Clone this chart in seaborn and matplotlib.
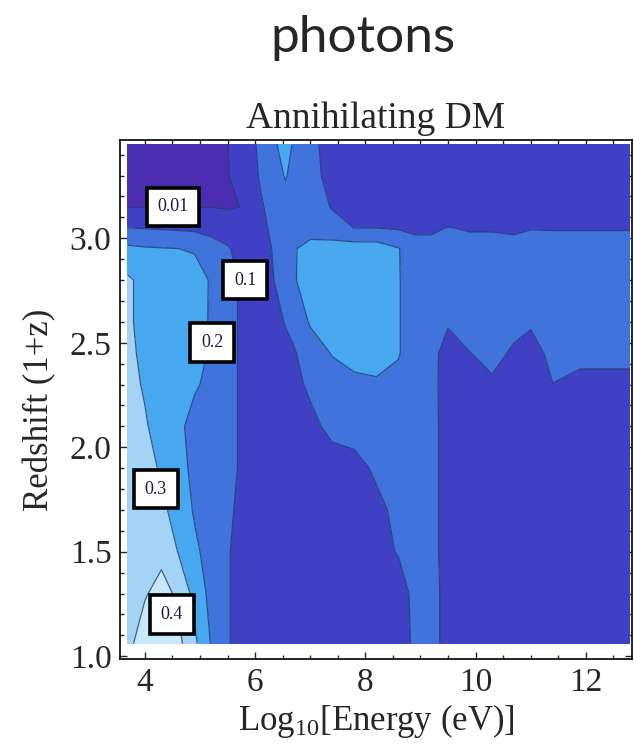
import numpy as np
import pandas as pd
import seaborn as sns
import matplotlib.pyplot as plt
from matplotlib.colors import ListedColormap, BoundaryNorm
from matplotlib.ticker import MultipleLocator

sns.set_style("ticks")
plt.rcParams["font.family"] = ["Liberation Serif", "DejaVu Serif"]
plt.rcParams["mathtext.fontset"] = "custom"
plt.rcParams["mathtext.rm"] = "Liberation Serif"
plt.rcParams["mathtext.it"] = "Liberation Serif:italic"

# grid: log10 energy (columns) x redshift 1+z (rows)
energy = [3.69, 4.0, 4.3, 4.6, 4.9, 5.2, 5.5, 5.8, 6.1, 6.4, 6.55, 6.7, 7.0, 7.4,
          7.8, 8.2, 8.6, 8.9, 9.2, 9.5, 9.9, 10.3, 10.7, 11.0, 11.4, 11.9, 12.8]
redshift = [1.06, 1.3, 1.5, 1.7, 1.9, 2.1, 2.3, 2.45, 2.6, 2.8, 2.95, 3.05, 3.15, 3.3, 3.45]

fraction = [
    # 1.06
    [0.37, 0.46, 0.47, 0.43, 0.32, 0.195, 0.11, 0.05, 0.05, 0.05, 0.05, 0.05, 0.05, 0.05,
     0.05, 0.05, 0.02, 0.13, 0.14, 0.06, 0.05, 0.05, 0.05, 0.05, 0.05, 0.05, 0.05],
    # 1.3
    [0.36, 0.39, 0.44, 0.38, 0.27, 0.17, 0.11, 0.05, 0.05, 0.05, 0.05, 0.05, 0.05, 0.05,
     0.05, 0.05, 0.03, 0.14, 0.14, 0.06, 0.05, 0.05, 0.05, 0.05, 0.05, 0.05, 0.05],
    # 1.5
    [0.35, 0.38, 0.37, 0.298, 0.22, 0.16, 0.11, 0.05, 0.05, 0.05, 0.05, 0.05, 0.05, 0.05,
     0.05, 0.05, 0.11, 0.15, 0.13, 0.06, 0.05, 0.05, 0.05, 0.05, 0.05, 0.05, 0.05],
    # 1.7
    [0.35, 0.34, 0.32, 0.265, 0.19, 0.16, 0.13, 0.05, 0.05, 0.05, 0.05, 0.05, 0.05, 0.05,
     0.05, 0.07, 0.13, 0.15, 0.13, 0.06, 0.05, 0.05, 0.05, 0.05, 0.05, 0.05, 0.05],
    # 1.9
    [0.34, 0.33, 0.29, 0.23, 0.18, 0.15, 0.13, 0.08, 0.05, 0.05, 0.05, 0.05, 0.05, 0.05,
     0.06, 0.12, 0.15, 0.15, 0.13, 0.06, 0.05, 0.05, 0.05, 0.05, 0.05, 0.05, 0.05],
    # 2.1
    [0.34, 0.31, 0.26, 0.22, 0.17, 0.15, 0.13, 0.08, 0.05, 0.04, 0.04, 0.04, 0.07, 0.13,
     0.15, 0.16, 0.16, 0.15, 0.13, 0.06, 0.05, 0.05, 0.05, 0.05, 0.05, 0.05, 0.05],
    # 2.3
    [0.33, 0.29, 0.26, 0.24, 0.21, 0.18, 0.13, 0.08, 0.05, 0.05, 0.06, 0.07, 0.12, 0.16,
     0.18, 0.19, 0.18, 0.15, 0.12, 0.07, 0.08, 0.09, 0.08, 0.08, 0.099, 0.09, 0.09],
    # 2.45
    [0.32, 0.28, 0.26, 0.25, 0.23, 0.19, 0.13, 0.08, 0.05, 0.06, 0.075, 0.09, 0.15, 0.205,
     0.23, 0.23, 0.205, 0.16, 0.13, 0.06, 0.099, 0.12, 0.09, 0.07, 0.12, 0.11, 0.11],
    # 2.6
    [0.31, 0.28, 0.27, 0.26, 0.24, 0.19, 0.13, 0.08, 0.05, 0.08, 0.105, 0.13, 0.21, 0.25,
     0.27, 0.27, 0.205, 0.16, 0.14, 0.11, 0.13, 0.14, 0.12, 0.11, 0.14, 0.14, 0.14],
    # 2.8
    [0.315, 0.27, 0.27, 0.27, 0.25, 0.19, 0.13, 0.08, 0.06, 0.11, 0.15, 0.19, 0.25, 0.27,
     0.28, 0.28, 0.205, 0.16, 0.15, 0.15, 0.15, 0.15, 0.15, 0.15, 0.15, 0.15, 0.15],
    # 2.95
    [0.22, 0.21, 0.205, 0.201, 0.19, 0.14, 0.11, 0.06, 0.06, 0.12, 0.16, 0.19, 0.24, 0.25,
     0.25, 0.25, 0.205, 0.14, 0.12, 0.13, 0.12, 0.12, 0.12, 0.12, 0.12, 0.12, 0.12],
    # 3.05
    [0.101, 0.095, 0.09, 0.085, 0.08, 0.07, 0.05, 0.04, 0.07, 0.14, 0.15, 0.15, 0.15, 0.13,
     0.099, 0.099, 0.09, 0.08, 0.09, 0.102, 0.095, 0.095, 0.09, 0.098, 0.097, 0.097, 0.097],
    # 3.15
    [0.008, 0.008, 0.008, 0.008, 0.008, 0.009, 0.005, 0.012, 0.09, 0.14, 0.15, 0.16, 0.14, 0.095,
     0.06, 0.05, 0.05, 0.05, 0.05, 0.05, 0.05, 0.05, 0.05, 0.05, 0.05, 0.05, 0.05],
    # 3.3
    [0.005, 0.005, 0.005, 0.005, 0.005, 0.005, 0.007, 0.04, 0.11, 0.16, 0.21, 0.16, 0.13, 0.07,
     0.05, 0.05, 0.05, 0.05, 0.05, 0.05, 0.05, 0.05, 0.05, 0.05, 0.05, 0.05, 0.05],
    # 3.45
    [0.004, 0.004, 0.004, 0.004, 0.004, 0.004, 0.008, 0.05, 0.12, 0.201, 0.24, 0.19, 0.12, 0.07,
     0.05, 0.05, 0.05, 0.05, 0.05, 0.05, 0.05, 0.05, 0.05, 0.05, 0.05, 0.05, 0.05],
]

levels = [0.0, 0.01, 0.1, 0.2, 0.3, 0.4, 0.5]
band_colors = ["#4b2db2", "#4040c4", "#4073dc", "#47a8f0", "#a3d4f6", "#c8e9fb"]
label_text = ["0.01", "0.1", "0.2", "0.3", "0.4"]
label_pos = [(4.51, 3.15), (5.82, 2.80), (5.22, 2.50), (4.20, 1.80), (4.49, 1.20)]

grid = pd.DataFrame(fraction, index=redshift, columns=energy)

fig = plt.figure(figsize=(6.34, 7.49), dpi=100)
ax = fig.add_axes([0.189, 0.12, 0.808, 0.693])

cmap = ListedColormap(sns.color_palette(band_colors))
norm = BoundaryNorm(levels, cmap.N)
X, Y = np.meshgrid(grid.columns.values, grid.index.values)
ax.contourf(X, Y, grid.values, levels=levels, cmap=cmap, norm=norm)
ax.contour(X, Y, grid.values, levels=levels[1:-1], colors="#24386e",
           linewidths=0.9, alpha=0.8)

for txt, (lx, ly) in zip(label_text, label_pos):
    ax.text(lx, ly, txt, ha="center", va="center", fontsize=13, color="#1a1a4a",
            bbox=dict(boxstyle="square,pad=0.6", fc="white", ec="black", lw=2.6))

ax.set_xlim(3.545, 12.84)
ax.set_ylim(0.986, 3.47)
ax.xaxis.set_major_locator(MultipleLocator(2))
ax.xaxis.set_minor_locator(MultipleLocator(0.5))
ax.yaxis.set_major_locator(MultipleLocator(0.5))
ax.yaxis.set_minor_locator(MultipleLocator(0.1))
ax.yaxis.set_major_formatter(plt.FormatStrFormatter("%.1f"))
ax.tick_params(which="both", direction="in", top=True, right=True, width=1.0,
               labelsize=24, pad=6)
ax.tick_params(which="major", length=5)
ax.tick_params(which="minor", length=3)
for s in ax.spines.values():
    s.set_linewidth(1.2)
    s.set_color("black")

ax.set_xlabel("Log$_{10}$[Energy (eV)]", fontsize=25)
ax.xaxis.set_label_coords(0.501, -0.082)
ax.set_ylabel("Redshift (1+z)", fontsize=25, va="center")
ax.yaxis.set_label_coords(-0.157, 0.48)
ax.set_title("Annihilating DM", fontsize=27, pad=9)

fig.text(0.573, 0.949, "photons", ha="center", va="center", fontsize=37,
         family=["Lato", "DejaVu Sans"])

fig.savefig("out.png", dpi=100)
